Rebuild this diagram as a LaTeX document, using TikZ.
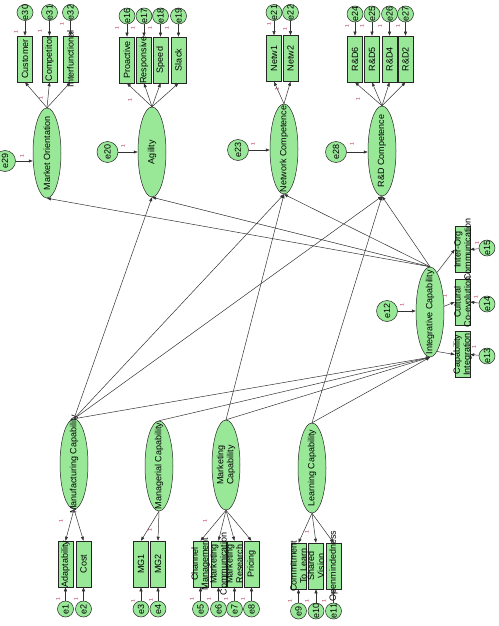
\documentclass[tikz,border=0pt]{standalone}
\usepackage{fontspec}
\setmainfont{Liberation Sans}
\usetikzlibrary{shapes.geometric,arrows.meta}
\definecolor{amosgreen}{RGB}{152,232,152}
\definecolor{lblred}{RGB}{170,20,50}
\newcommand\obs[4]{\node[obsbox] (#1) at (#2,#3) {};}
\newcommand\obslbl[4]{\node[obstext] (#1t) at (#1) {#4};}
\newcommand\latnt[4]{\node[latshape] (#1) at (#2,#3) {};\node[lattext] (#1t) at (#1) {#4};}
\newcommand\errc[4]{\node[#4] (#1) at (#2,#3) {\makebox[0pt]{#1}};}
\newcommand\onelab[3]{\node[onel] (#1) at (#2,#3) {1};}
\begin{document}
\begin{tikzpicture}[x=1pt,y=-1pt,
  latshape/.style={ellipse, draw=black!85, line width=0.5pt, fill=amosgreen, minimum width=28pt, minimum height=90pt, inner sep=0pt},
  lattext/.style={rotate=90, inner sep=0pt, font=\fontsize{9}{10}\selectfont, align=center},
  obsbox/.style={rectangle, draw=black!85, line width=0.5pt, fill=amosgreen, minimum width=15pt, minimum height=46pt, inner sep=0pt},
  obstext/.style={rotate=90, inner sep=0pt, font=\fontsize{9}{10}\selectfont, align=center},
  errsm/.style={circle, draw=black!85, line width=0.5pt, fill=amosgreen, minimum size=16pt, inner sep=0pt, font=\fontsize{9}{10}\selectfont, rotate=90},
  errlg/.style={errsm, minimum size=21pt},
  arr/.style={draw=black!80, line width=0.5pt, -{Triangle[length=4pt,width=3pt]}},
  onel/.style={rotate=90, text=lblred, font=\fontsize{5}{5}\selectfont, inner sep=0pt}
]
\useasboundingbox (0,0) rectangle (498,626);

% ---------- structural paths (drawn first) ----------
\latnt{mo}{47}{153}{Market Orientation}
\latnt{ag}{152}{152}{Agility}
\latnt{nc}{284}{149}{Network Competence}
\latnt{rd}{382}{151}{R\&D Competence}
\latnt{ic}{430}{312}{Integrative Capability}
\latnt{mf}{74}{464}{Manufacturing Capability}
\latnt{mg}{159}{466}{Managerial Capability}
\latnt{mk}{226}{465}{Marketing\\Capability}
\latnt{lc}{312}{468}{Learning Capability}

\draw[arr] (ic.north) -- (mo.south);
\draw[arr] (ic.north) -- (ag.south);
\draw[arr] (ic.north) -- (nc.south);
\draw[arr] (ic.north) -- (rd.south);
\draw[arr] (mf.north) -- (ag.south);
\draw[arr] (mf.north) -- (nc.south);
\draw[arr] (mf.north) -- (rd.south);
\draw[arr] (mf.north) -- (ic.south);
\draw[arr] (mg.north) -- (ic.south);
\draw[arr] (mk.north) -- (nc.south);
\draw[arr] (mk.north) -- (ic.south);
\draw[arr] (lc.north) -- (rd.south);
\draw[arr] (lc.north) -- (ic.south);

% ---------- top indicators ----------
\obs{cu}{25}{59}{}
\obs{co}{49.5}{59}{}
\obs{inf}{70.5}{59}{}
\obs{pr}{127}{60}{}
\obs{re}{144}{60}{}
\obs{sp}{160.5}{60}{}
\obs{sl}{178.5}{60}{}
\obs{nw1}{274}{58.5}{}
\obs{nw2}{290.5}{58.5}{}
\obs{rd6}{355}{59}{}
\obs{rd5}{372}{59}{}
\obs{rd4}{389.5}{59}{}
\obs{rd2}{405.5}{59}{}
% ---------- integrative indicators ----------
\obs{io}{462.5}{249.5}{}
\obs{cc}{462.5}{302}{}
\obs{ci}{462.5}{354.5}{}
% ---------- bottom indicators ----------
\obs{ad}{65.5}{564}{}
\obs{cs}{83.5}{564}{}
\obs{mg1}{141}{564}{}
\obs{mg2}{158}{564}{}
\obs{chm}{200.5}{564}{}
\obs{mcm}{218.5}{564}{}
\obs{pri}{251.5}{564}{}
\obs{mrs}{234.5}{564}{}
\obs{ctl}{298.5}{566}{}
\obs{shv}{316}{566}{}
\obs{opm}{333.5}{566}{}

\obslbl{cu}{}{}{Customer}
\obslbl{co}{}{}{Competitor}
\obslbl{inf}{}{}{Interfunctional}
\obslbl{pr}{}{}{Proactive}
\obslbl{re}{}{}{Responsive}
\obslbl{sp}{}{}{Speed}
\obslbl{sl}{}{}{Slack}
\obslbl{nw1}{}{}{Netw1}
\obslbl{nw2}{}{}{Netw2}
\obslbl{rd6}{}{}{R\&D6}
\obslbl{rd5}{}{}{R\&D5}
\obslbl{rd4}{}{}{R\&D4}
\obslbl{rd2}{}{}{R\&D2}
\obslbl{io}{}{}{Inter-Org\\Communication}
\obslbl{cc}{}{}{Cultural\\Co-evolution}
\obslbl{ci}{}{}{Capability\\Integration}
\obslbl{ad}{}{}{Adaptability}
\obslbl{cs}{}{}{Cost}
\obslbl{mg1}{}{}{MG1}
\obslbl{mg2}{}{}{MG2}
\obslbl{chm}{}{}{Channel\\Management}
\obslbl{mcm}{}{}{Marketing\\Communication}
\obslbl{pri}{}{}{Pricing}
\obslbl{mrs}{}{}{Marketing\\Research}
\obslbl{ctl}{}{}{Commitment\\To Learn}
\obslbl{shv}{}{}{Shared\\Vision}
\obslbl{opm}{}{}{Openmindedness}

% ---------- loadings ----------
\foreach \b in {cu,co,inf} \draw[arr] (mo.north) -- (\b.south);
\foreach \b in {pr,re,sp,sl} \draw[arr] (ag.north) -- (\b.south);
\foreach \b in {nw1,nw2} \draw[arr] (nc.north) -- (\b.south);
\foreach \b in {rd6,rd5,rd4,rd2} \draw[arr] (rd.north) -- (\b.south);
\draw[arr] (ic.80) -- (io.west);
\draw[arr] (ic) -- (cc.west);
\draw[arr] (ic.-80) -- (ci.west);
\foreach \b in {ad,cs} \draw[arr] (mf.south) -- (\b.north);
\foreach \b in {mg1,mg2} \draw[arr] (mg.south) -- (\b.north);
\foreach \b in {chm,mcm,mrs,pri} \draw[arr] (mk.south) -- (\b.north);
\foreach \b in {ctl,shv,opm} \draw[arr] (lc.south) -- (\b.north);

% ---------- error terms ----------
\errc{e30}{25}{12.5}{errsm}
\errc{e31}{49.5}{12.5}{errsm}
\errc{e32}{70.5}{12.5}{errsm}
\errc{e16}{127}{16}{errsm}
\errc{e17}{144}{16}{errsm}
\errc{e18}{160.5}{16}{errsm}
\errc{e19}{178.5}{16}{errsm}
\errc{e21}{274}{12.5}{errsm}
\errc{e22}{290.5}{12.5}{errsm}
\errc{e24}{355}{14}{errsm}
\errc{e25}{372}{14}{errsm}
\errc{e26}{389.5}{14}{errsm}
\errc{e27}{405.5}{14}{errsm}
\errc{e15}{487}{248}{errsm}
\errc{e14}{487}{304}{errsm}
\errc{e13}{487}{356}{errsm}
\errc{e1}{65.5}{609}{errsm}
\errc{e2}{83.5}{609}{errsm}
\errc{e3}{141}{609}{errsm}
\errc{e4}{158}{609}{errsm}
\errc{e5}{200.5}{609}{errsm}
\errc{e6}{218.5}{609}{errsm}
\errc{e7}{234.5}{609}{errsm}
\errc{e8}{251.5}{609}{errsm}
\errc{e9}{298.5}{611}{errsm}
\errc{e10}{316}{611}{errsm}
\errc{e11}{333.5}{611}{errsm}
\errc{e29}{5}{161}{errlg}
\errc{e20}{107.5}{152}{errlg}
\errc{e23}{238}{150}{errlg}
\errc{e28}{336}{152}{errlg}
\errc{e12}{387}{311}{errlg}

\draw[arr] (e30) -- (cu.north);
\draw[arr] (e31) -- (co.north);
\draw[arr] (e32) -- (inf.north);
\draw[arr] (e16) -- (pr.north);
\draw[arr] (e17) -- (re.north);
\draw[arr] (e18) -- (sp.north);
\draw[arr] (e19) -- (sl.north);
\draw[arr] (e21) -- (nw1.north);
\draw[arr] (e22) -- (nw2.north);
\draw[arr] (e24) -- (rd6.north);
\draw[arr] (e25) -- (rd5.north);
\draw[arr] (e26) -- (rd4.north);
\draw[arr] (e27) -- (rd2.north);
\draw[arr] (e15) -- (io.east);
\draw[arr] (e14) -- (cc.east);
\draw[arr] (e13) -- (ci.east);
\draw[arr] (e1) -- (ad.south);
\draw[arr] (e2) -- (cs.south);
\draw[arr] (e3) -- (mg1.south);
\draw[arr] (e4) -- (mg2.south);
\draw[arr] (e5) -- (chm.south);
\draw[arr] (e6) -- (mcm.south);
\draw[arr] (e7) -- (mrs.south);
\draw[arr] (e8) -- (pri.south);
\draw[arr] (e9) -- (ctl.south);
\draw[arr] (e10) -- (shv.south);
\draw[arr] (e11) -- (opm.south);
\draw[arr] (e29) -- (e29 -| mo.west);
\draw[arr] (e20) -- (e20 -| ag.west);
\draw[arr] (e23) -- (e23 -| nc.west);
\draw[arr] (e28) -- (e28 -| rd.west);
\draw[arr] (e12) -- (e12 -| ic.west);

% ---------- fixed-parameter labels ----------
\onelab{l1}{16}{32}
\onelab{l2}{40}{31}
\onelab{l3}{62}{24}
\onelab{l4}{41}{98}
\onelab{l5}{22}{156}
\onelab{l6}{117}{28}
\onelab{l7}{133}{28}
\onelab{l8}{150}{28}
\onelab{l9}{167}{28}
\onelab{l10}{130}{100}
\onelab{l11}{123}{146}
\onelab{l12}{269}{24}
\onelab{l13}{285}{29}
\onelab{l14}{277}{89}
\onelab{l15}{253}{144}
\onelab{l16}{347}{26}
\onelab{l17}{362}{26}
\onelab{l18}{380}{26}
\onelab{l19}{398}{26}
\onelab{l20}{358}{99}
\onelab{l21}{352}{144}
\onelab{l22}{402}{305}
\onelab{l23}{477}{243}
\onelab{l24}{476}{297}
\onelab{l25}{474}{347}
\onelab{l26}{445}{296}
\onelab{l27}{61}{521}
\onelab{l28}{58}{599}
\onelab{l29}{76}{599}
\onelab{l30}{150}{530}
\onelab{l31}{133}{601}
\onelab{l32}{151}{600}
\onelab{l33}{205}{521}
\onelab{l34}{192}{599}
\onelab{l35}{209}{599}
\onelab{l36}{226}{599}
\onelab{l37}{243}{599}
\onelab{l38}{307}{532}
\onelab{l39}{290}{601}
\onelab{l40}{307}{601}
\onelab{l41}{324}{601}
\end{tikzpicture}
\end{document}
